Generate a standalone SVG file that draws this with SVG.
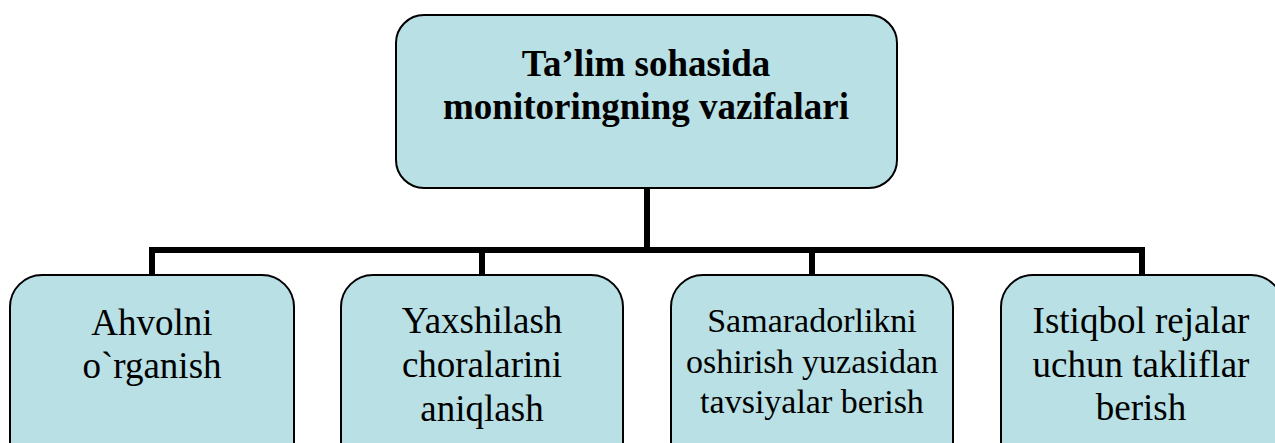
<svg xmlns="http://www.w3.org/2000/svg" width="1275" height="443" viewBox="0 0 1275 443">
<style>
.box{fill:#b9e0e4;stroke:#000;stroke-width:2}
text{font-family:'Liberation Serif','Tinos','DejaVu Serif',serif;fill:#000;text-anchor:middle}
.tb{font-size:37px;font-weight:bold}
.tr{font-size:37px}
.ts{font-size:34px}
.c{fill:none;stroke:#000;stroke-width:6;stroke-linejoin:miter}
</style>
<rect width="1275" height="443" fill="#fff"/>
<g id="connectors">
<path class="c" d="M647 188 V250"/>
<path class="c" d="M152 276 V250 H1142 V276"/>
<path class="c" d="M482 250 V276"/>
<path class="c" d="M812 250 V276"/>
</g>
<g id="root">
<rect class="box" x="396" y="15" width="501" height="173" rx="28" ry="28"/>
<text class="tb" x="646" y="76" font-family="Liberation Serif">Ta’lim sohasida</text>
<text class="tb" x="646" y="119" font-family="Liberation Serif">monitoringning vazifalari</text>
</g>
<g id="n1">
<rect class="box" x="10" y="275" width="284" height="200" rx="32" ry="32"/>
<text class="tr" x="152" y="335">Ahvolni</text>
<text class="tr" x="152" y="378">o`rganish</text>
</g>
<g id="n2">
<rect class="box" x="341" y="275" width="282" height="200" rx="32" ry="32"/>
<text class="tr" x="482" y="333">Yaxshilash</text>
<text class="tr" x="482" y="377">choralarini</text>
<text class="tr" x="482" y="421">aniqlash</text>
</g>
<g id="n3">
<rect class="box" x="671" y="275" width="282" height="200" rx="32" ry="32"/>
<text class="ts" x="812" y="332">Samaradorlikni</text>
<text class="ts" x="812" y="373">oshirish yuzasidan</text>
<text class="ts" x="812" y="413">tavsiyalar berish</text>
</g>
<g id="n4">
<rect class="box" x="1001" y="275" width="282" height="200" rx="32" ry="32"/>
<text class="tr" x="1141" y="333">Istiqbol rejalar</text>
<text class="tr" x="1141" y="377">uchun takliflar</text>
<text class="tr" x="1141" y="420">berish</text>
</g>
</svg>
